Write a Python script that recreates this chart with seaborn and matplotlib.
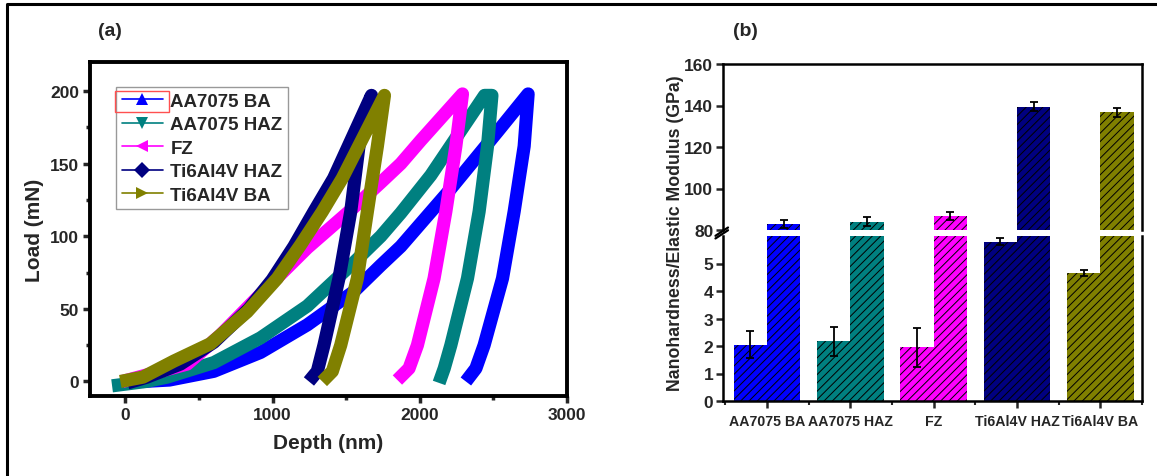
import numpy as np
import pandas as pd
import matplotlib
matplotlib.use("Agg")
import matplotlib.pyplot as plt
from matplotlib.lines import Line2D
from matplotlib.patches import Rectangle
from matplotlib.ticker import MultipleLocator
import seaborn as sns

# ---------------- data ----------------
samples = ["AA7075 BA", "AA7075 HAZ", "FZ", "Ti6Al4V HAZ", "Ti6Al4V BA"]
colors = ["#0000FF", "#008080", "#FF00FF", "#000080", "#808000"]
markers = ["^", "v", "<", "D", ">"]

# load-depth curves (loading branch followed by unloading branch)
depth_aa_ba = [120, 300, 601, 918, 1236, 1553, 1735, 1871, 2188, 2528, 2736,
               2709, 2641, 2562, 2437, 2381, 2313]
load_aa_ba = [0, 1, 7, 20, 39, 62, 80, 93, 130, 172, 198,
              162, 117, 71, 25, 9, 0]

depth_aa_haz = [-90, 140, 284, 601, 918, 1236, 1553, 1735, 1871, 2075, 2440, 2490,
                2460, 2403, 2324, 2211, 2166, 2131]
load_aa_haz = [-3, 0, 3, 13, 30, 52, 82, 100, 116, 142, 197, 197,
               162, 117, 71, 25, 9, -1]

depth_fz = [-20, 420, 646, 918, 1236, 1553, 1735, 1871, 2007, 2290,
            2245, 2177, 2097, 1984, 1927, 1848]
load_fz = [0, 12, 32, 60, 92, 120, 137, 150, 166, 198,
           162, 117, 71, 25, 9, 1]

depth_ti_haz = [14, 147, 374, 601, 839, 997, 1145, 1281, 1415, 1672,
                1587, 1531, 1451, 1349, 1304, 1247]
load_ti_haz = [-1, 3, 12, 27, 50, 70, 93, 117, 140, 197,
               162, 117, 71, 25, 7, 0]

depth_ti_ba = [-34, 120, 329, 578, 828, 1032, 1190, 1338, 1474, 1760,
               1712, 1644, 1576, 1463, 1406, 1338]
load_ti_ba = [0, 3, 14, 26, 48, 71, 94, 117, 140, 197,
              162, 117, 71, 25, 7, 0]

depths = [depth_aa_ba, depth_aa_haz, depth_fz, depth_ti_haz, depth_ti_ba]
loads = [load_aa_ba, load_aa_haz, load_fz, load_ti_haz, load_ti_ba]

# nanoindentation results (GPa)
hardness = [2.05, 2.17, 1.95, 5.80, 4.65]
hardness_err = [0.49, 0.52, 0.70, 0.12, 0.12]
modulus = [82.9, 84.0, 86.8, 139.5, 136.7]
modulus_err = [2.0, 2.2, 2.0, 2.1, 2.1]

# ---------------- style ----------------
sns.set_theme(style="white")
plt.rcParams["font.family"] = ["Liberation Sans", "DejaVu Sans"]
plt.rcParams["font.weight"] = "bold"
plt.rcParams["axes.labelweight"] = "bold"
plt.rcParams["hatch.linewidth"] = 0.7

W, H = 1157, 477
fig = plt.figure(figsize=(W / 100, H / 100), dpi=100)


def fx(px):
    return px / W


def fy(py):
    return 1 - py / H


# ---------------- (a) load-depth curves ----------------
ax = fig.add_axes([fx(90), fy(397), fx(567) - fx(90), fy(63) - fy(397)])
rows = []
for s, d, l in zip(samples, depths, loads):
    for dd, ll in zip(d, l):
        rows.append({"Sample": s, "Depth": dd, "Load": ll})
curves = pd.DataFrame(rows)
sns.lineplot(data=curves, x="Depth", y="Load", hue="Sample", hue_order=samples,
             palette=colors, sort=False, estimator=None, lw=9.5, legend=False,
             ax=ax, solid_joinstyle="round", solid_capstyle="butt")

ax.set_xlim(-240, 3000)
ax.set_ylim(-10, 220)
ax.set_xticks([0, 1000, 2000, 3000])
ax.set_yticks([0, 50, 100, 150, 200])
ax.xaxis.set_minor_locator(MultipleLocator(500))
ax.yaxis.set_minor_locator(MultipleLocator(25))
ax.set_xlabel("Depth (nm)", fontsize=15, fontweight="bold", labelpad=8)
ax.set_ylabel("Load (mN)", fontsize=15, fontweight="bold", labelpad=4)
for sp in ax.spines.values():
    sp.set_linewidth(2.8)
    sp.set_color("black")
ax.tick_params(which="major", direction="out", length=5, width=2.5,
               labelsize=12.5, left=True, bottom=True, pad=3)
ax.tick_params(which="minor", direction="out", length=3, width=2.5,
               left=True, bottom=True)
for t in ax.get_xticklabels() + ax.get_yticklabels():
    t.set_fontweight("bold")

handles = [Line2D([], [], color=c, marker=m, lw=1.2, markersize=8,
                  markeredgewidth=0)
           for c, m in zip(colors, markers)]
leg = ax.legend(handles, samples, loc="upper left",
                bbox_to_anchor=((116 - 90) / 477, (397 - 88) / 334),
                borderaxespad=0, frameon=True, fancybox=False,
                edgecolor="#808080", handlelength=2.2, handletextpad=0.4,
                labelspacing=0.34, borderpad=0.3,
                prop={"weight": "bold", "size": 13.5})
leg.get_frame().set_linewidth(1.0)

fig.text(fx(110), fy(32), "(a)", fontsize=14, fontweight="bold",
         ha="center", va="center")

# ---------------- (b) broken-axis bar chart ----------------
xl, xr = fx(723), fx(1142)
ax_hi = fig.add_axes([xl, fy(231), xr - xl, fy(65) - fy(231)])
ax_lo = fig.add_axes([xl, fy(402), xr - xl, fy(237) - fy(402)])

pos = np.arange(len(samples))
bw = 0.4
for a in (ax_hi, ax_lo):
    a.bar(pos - bw / 2, hardness, width=bw, color=colors, edgecolor="black",
          linewidth=0, hatch="////", zorder=2)
    a.bar(pos + bw / 2, modulus, width=bw, color=colors, edgecolor="black",
          linewidth=0, hatch="////", zorder=2)
    a.set_xlim(-0.53, 4.5)
    for sp in a.spines.values():
        sp.set_linewidth(1.8)
        sp.set_color("black")

ax_lo.errorbar(pos - bw / 2, hardness, yerr=hardness_err, fmt="none",
               ecolor="black", elinewidth=1.3, capsize=3, capthick=1.3, zorder=3)
ax_hi.errorbar(pos + bw / 2, modulus, yerr=modulus_err, fmt="none",
               ecolor="black", elinewidth=1.3, capsize=3, capthick=1.3, zorder=3)

ax_hi.set_ylim(80, 160)
ax_hi.set_yticks([80, 100, 120, 140, 160])
ax_lo.set_ylim(0, 6)
ax_lo.set_yticks([0, 1, 2, 3, 4, 5])

ax_hi.spines["bottom"].set_visible(False)
ax_lo.spines["top"].set_visible(False)
ax_hi.tick_params(axis="x", which="both", bottom=False, labelbottom=False)
ax_hi.tick_params(axis="y", direction="out", length=5, width=1.8,
                  labelsize=12.5, left=True, pad=2)
ax_lo.tick_params(axis="y", direction="out", length=5, width=1.8,
                  labelsize=12.5, left=True, pad=2)
ax_lo.set_xticks(pos)
ax_lo.set_xticklabels(samples)
ax_lo.xaxis.set_minor_locator(MultipleLocator(1, offset=0.5))
ax_lo.tick_params(axis="x", which="major", direction="out", length=5,
                  width=1.8, labelsize=10.2, bottom=True, pad=4)
ax_lo.tick_params(axis="x", which="minor", direction="out", length=3,
                  width=1.5, bottom=True)
for a in (ax_hi, ax_lo):
    for t in a.get_xticklabels() + a.get_yticklabels():
        t.set_fontweight("bold")

# break marks on the left spine
kw = dict(color="black", lw=1.6, clip_on=False)
ax_hi.plot([-0.018, 0.012], [-0.035, 0.015], transform=ax_hi.transAxes, **kw)
ax_lo.plot([-0.018, 0.012], [0.985, 1.035], transform=ax_lo.transAxes, **kw)

fig.text(fx(676), fy(233), "Nanohardness/Elastic Modulus (GPa)", rotation=90,
         fontsize=12.8, fontweight="bold", ha="center", va="center")
fig.text(fx(745), fy(32), "(b)", fontsize=14, fontweight="bold",
         ha="center", va="center")

# outer frame (left and top edges)
fig.add_artist(Line2D([fx(7), fx(7), 1.0], [0.0, fy(5), fy(5)],
                      transform=fig.transFigure, color="black", lw=2.2))

# red selection box around the first legend handle
fig.canvas.draw()
renderer = fig.canvas.get_renderer()
h0 = leg.legend_handles[0].get_window_extent(renderer)
t0 = leg.get_texts()[0].get_window_extent(renderer)
x0, x1 = h0.x0 - 1, h0.x1 + 1
yc = (t0.y0 + t0.y1) / 2
fig.add_artist(Rectangle((x0 / W, (yc - 10.5) / H), (x1 - x0) / W, 21 / H,
                         transform=fig.transFigure, fill=False,
                         edgecolor="#FF5050", lw=1.0))

fig.savefig("out.png", dpi=100)
